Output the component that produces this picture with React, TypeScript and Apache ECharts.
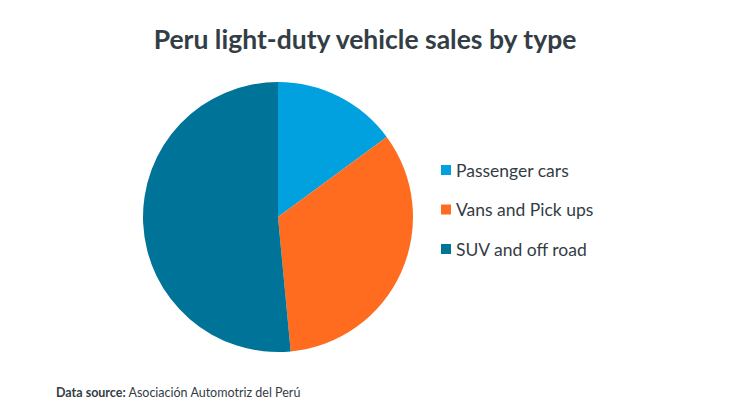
import React, { useEffect, useRef } from "react";
import * as echarts from "echarts";

const categories = ["Passenger cars", "Vans and Pick ups", "SUV and off road"];
const values = [14.9, 33.6, 51.5];
const colors = ["#00A1DE", "#FF6C1F", "#007399"];

export default function App() {
  const ref = useRef<HTMLDivElement>(null);
  useEffect(() => {
    if (!ref.current) return;
    const chart = echarts.init(ref.current, undefined, { renderer: "svg" });
    chart.setOption({
      animation: false,
      backgroundColor: "#ffffff",
      title: {
        text: "Peru light-duty vehicle sales by type",
        left: "center",
        top: 20,
        textStyle: {
          fontFamily: "Lato",
          fontWeight: "bold",
          fontSize: 26.5,
          color: "#333d45",
        },
      },
      legend: {
        orient: "vertical",
        left: 436,
        top: 156,
        itemWidth: 10,
        itemHeight: 10,
        itemGap: 21.5,
        icon: "rect",
        data: categories,
        textStyle: { fontFamily: "Lato", fontSize: 17.5, color: "#333d45" },
      },
      series: [
        {
          type: "pie",
          center: [278, 217],
          radius: 135,
          startAngle: 90,
          clockwise: true,
          label: { show: false },
          labelLine: { show: false },
          itemStyle: { borderWidth: 0 },
          data: categories.map((name, i) => ({
            name,
            value: values[i],
            itemStyle: { color: colors[i] },
          })),
        },
      ],
      graphic: [
        {
          type: "text",
          left: 56,
          top: 386,
          style: {
            text: "{b|Data source:} Asociación Automotriz del Perú",
            rich: {
              b: { fontWeight: "bold", fontFamily: "Lato", fontSize: 12.5, fill: "#333d45" },
            },
            fontFamily: "Lato",
            fontSize: 12.5,
            fill: "#333d45",
          },
        },
      ],
    });
    return () => chart.dispose();
  }, []);
  return (
    <div
      ref={ref}
      style={{ position: "fixed", left: 0, top: 0, width: 730, height: 411 }}
    />
  );
}
